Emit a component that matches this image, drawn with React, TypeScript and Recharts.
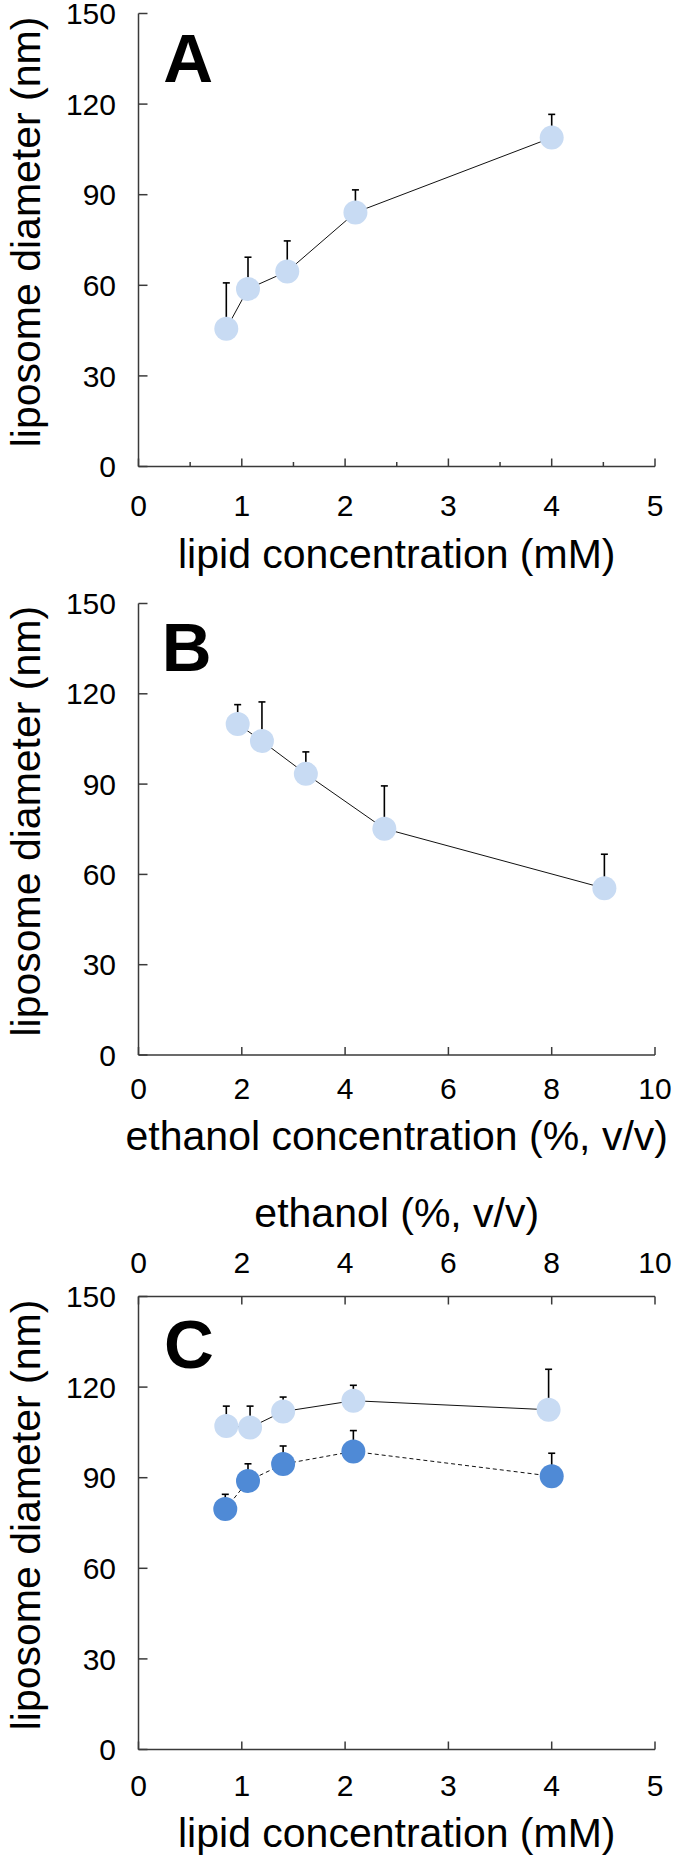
import React from "react";
import { ComposedChart, Scatter, XAxis, YAxis, ErrorBar, Label } from "recharts";

const FONT = '"Liberation Sans", Arial, Helvetica, sans-serif';
const LIGHT = "#c8dbf3";
const DARK = "#4f8ad6";
const AXIS = "#3a3a3a";

// A: diameter vs lipid concentration (mM)
const lipidA = [0.85, 1.06, 1.44, 2.1, 4.0];
const diameterA = [45.6, 58.8, 64.6, 84.1, 108.9];
const errorA = [15.2, 10.5, 10.1, 7.5, 7.7];

// B: diameter vs ethanol concentration (%, v/v)
const ethanolB = [1.92, 2.39, 3.24, 4.76, 9.02];
const diameterB = [110.0, 104.3, 93.4, 75.2, 55.4];
const errorB = [6.4, 13.0, 7.3, 14.2, 11.3];

// C: light series on the ethanol (top) axis, dark series on the lipid (bottom) axis
const ethanolC = [1.7, 2.16, 2.8, 4.16, 7.94];
const diameterCEthanol = [107.1, 106.6, 111.9, 115.5, 112.5];
const errorCEthanol = [6.6, 7.1, 4.8, 5.1, 13.4];
const lipidC = [0.84, 1.06, 1.4, 2.08, 4.0];
const diameterCLipid = [79.6, 88.9, 94.5, 98.7, 90.5];
const errorCLipid = [4.9, 5.7, 6.0, 6.9, 7.6];

const yTicks = [0, 30, 60, 90, 120, 150];
const lipidTicks = [0, 1, 2, 3, 4, 5];
const lipidTicksWithMinor = [0, 0.5, 1, 1.5, 2, 2.5, 3, 3.5, 4, 4.5, 5];
const ethanolTicks = [0, 2, 4, 6, 8, 10];

const toRows = (xs: number[], ys: number[], errs: number[]) =>
  xs.map((x, i) => ({ x, y: ys[i], err: [0, errs[i]] }));

const rowsA = toRows(lipidA, diameterA, errorA);
const rowsB = toRows(ethanolB, diameterB, errorB);
const rowsCEthanol = toRows(ethanolC, diameterCEthanol, errorCEthanol);
const rowsCLipid = toRows(lipidC, diameterCLipid, errorCLipid);

const axisLine = { stroke: AXIS, strokeWidth: 1.5 };
const TICK_FONT = 30;
const titleProps = { fill: "#000", fontSize: 41, fontFamily: FONT };

const dot = (fill: string) => (p: any) => (
  <circle cx={p.cx} cy={p.cy} r={12} fill={fill} />
);

function TickText({ x, y, dy, anchor, children }: any) {
  return (
    <text x={x} y={y} dy={dy} textAnchor={anchor} fill="#000" fontSize={TICK_FONT} fontFamily={FONT}>
      {children}
    </text>
  );
}

const BottomTick = (p: any) => <TickText x={p.x} y={p.y} dy="0.71em" anchor="middle">{p.payload.value}</TickText>;
const TopTick = (p: any) => <TickText x={p.x} y={p.y} dy="0" anchor="middle">{p.payload.value}</TickText>;
const LeftTick = (p: any) => <TickText x={p.x} y={p.y} dy="0.355em" anchor="end">{p.payload.value}</TickText>;

// bottom axis of A: long ticks with labels at integers, short ticks at halves
const A_TICK_GAP = 28.5;
function LipidTick(props: any) {
  const { x, y, payload } = props;
  const major = Number.isInteger(payload.value);
  const axisY = y - A_TICK_GAP;
  return (
    <g>
      <line x1={x} x2={x} y1={axisY} y2={axisY - (major ? 8 : 4.5)} stroke={AXIS} strokeWidth={1.5} />
      {major && (
        <TickText x={x} y={y} dy="0.71em" anchor="middle">
          {payload.value}
        </TickText>
      )}
    </g>
  );
}

function panelLetter(letter: string, left: number, top: number) {
  return (
    <div
      style={{
        position: "absolute",
        left,
        top,
        fontFamily: FONT,
        fontWeight: 700,
        fontSize: 69,
        lineHeight: 1,
        color: "#000",
      }}
    >
      {letter}
    </div>
  );
}

const yAxisProps = {
  type: "number" as const,
  dataKey: "y",
  domain: [0, 150],
  ticks: yTicks,
  interval: 0,
  width: 138.5,
  tickSize: -9,
  tickMargin: 31.5,
  tick: LeftTick,
  tickLine: axisLine,
  axisLine,
};

const diameterLabel = (
  <Label value="liposome diameter (nm)" angle={-90} position="center" dx={-43.8} dy={-8} {...titleProps} />
);

export default function App() {
  return (
    <div style={{ position: "absolute", left: 0, top: 0, width: 675, height: 1859, background: "#fff", fontFamily: FONT }}>
      <style>{".recharts-surface { overflow: visible; }"}</style>

      {/* A */}
      <div style={{ position: "absolute", left: 0, top: 0 }}>
        <ComposedChart width={675} height={590} margin={{ top: 13.5, right: 20, bottom: 0, left: 0 }}>
          <XAxis
            type="number"
            dataKey="x"
            domain={[0, 5]}
            ticks={lipidTicksWithMinor}
            interval={0}
            height={123.5}
            tickSize={0}
            tickMargin={A_TICK_GAP}
            tickLine={false}
            tick={LipidTick}
            axisLine={axisLine}
          >
            <Label value="lipid concentration (mM)" position="insideBottom" offset={22} {...titleProps} />
          </XAxis>
          <YAxis {...yAxisProps}>{diameterLabel}</YAxis>
          <Scatter
            data={rowsA}
            fill={LIGHT}
            shape={dot(LIGHT)}
            line={{ stroke: "#111", strokeWidth: 1 }}
            isAnimationActive={false}
          >
            <ErrorBar dataKey="err" direction="y" width={3.5} stroke="#000" strokeWidth={1.6} />
          </Scatter>
        </ComposedChart>
      </div>

      {/* B */}
      <div style={{ position: "absolute", left: 0, top: 570 }}>
        <ComposedChart width={675} height={610} margin={{ top: 33.5, right: 20, bottom: 0, left: 0 }}>
          <XAxis
            type="number"
            dataKey="x"
            domain={[0, 10]}
            ticks={ethanolTicks}
            interval={0}
            height={125}
            tickSize={-8}
            tickMargin={30.3}
            tick={BottomTick}
            tickLine={axisLine}
            axisLine={axisLine}
          >
            <Label value="ethanol concentration (%, v/v)" position="insideBottom" offset={30} {...titleProps} />
          </XAxis>
          <YAxis {...yAxisProps}>{diameterLabel}</YAxis>
          <Scatter
            data={rowsB}
            fill={LIGHT}
            shape={dot(LIGHT)}
            line={{ stroke: "#111", strokeWidth: 1 }}
            isAnimationActive={false}
          >
            <ErrorBar dataKey="err" direction="y" width={3.5} stroke="#000" strokeWidth={1.6} />
          </Scatter>
        </ComposedChart>
      </div>

      {/* C */}
      <div style={{ position: "absolute", left: 0, top: 1180 }}>
        <ComposedChart width={675} height={679} margin={{ top: 0, right: 20, bottom: 0, left: 0 }}>
          <XAxis
            xAxisId="ethanol"
            orientation="top"
            type="number"
            dataKey="x"
            domain={[0, 10]}
            ticks={ethanolTicks}
            interval={0}
            height={116.5}
            tickSize={-8}
            tickMargin={31.2}
            tick={TopTick}
            tickLine={axisLine}
            axisLine={axisLine}
          >
            <Label value="ethanol (%, v/v)" position="insideTop" offset={17.6} {...titleProps} />
          </XAxis>
          <XAxis
            xAxisId="lipid"
            orientation="bottom"
            type="number"
            dataKey="x"
            domain={[0, 5]}
            ticks={lipidTicks}
            interval={0}
            height={109.5}
            tickSize={-8}
            tickMargin={33.5}
            tick={BottomTick}
            tickLine={axisLine}
            axisLine={axisLine}
          >
            <Label value="lipid concentration (mM)" position="insideBottom" offset={12.3} {...titleProps} />
          </XAxis>
          <YAxis {...yAxisProps}>{diameterLabel}</YAxis>
          <Scatter
            xAxisId="ethanol"
            data={rowsCEthanol}
            fill={LIGHT}
            shape={dot(LIGHT)}
            line={{ stroke: "#111", strokeWidth: 1 }}
            isAnimationActive={false}
          >
            <ErrorBar dataKey="err" direction="y" width={3.5} stroke="#000" strokeWidth={1.6} />
          </Scatter>
          <Scatter
            xAxisId="lipid"
            data={rowsCLipid}
            fill={DARK}
            shape={dot(DARK)}
            line={{ stroke: "#111", strokeWidth: 1, strokeDasharray: "4 3" }}
            isAnimationActive={false}
          >
            <ErrorBar dataKey="err" direction="y" width={3.5} stroke="#000" strokeWidth={1.6} />
          </Scatter>
        </ComposedChart>
      </div>

      {panelLetter("A", 163.3, 24.3)}
      {panelLetter("B", 161.7, 613.3)}
      {panelLetter("C", 164, 1309.6)}
    </div>
  );
}
